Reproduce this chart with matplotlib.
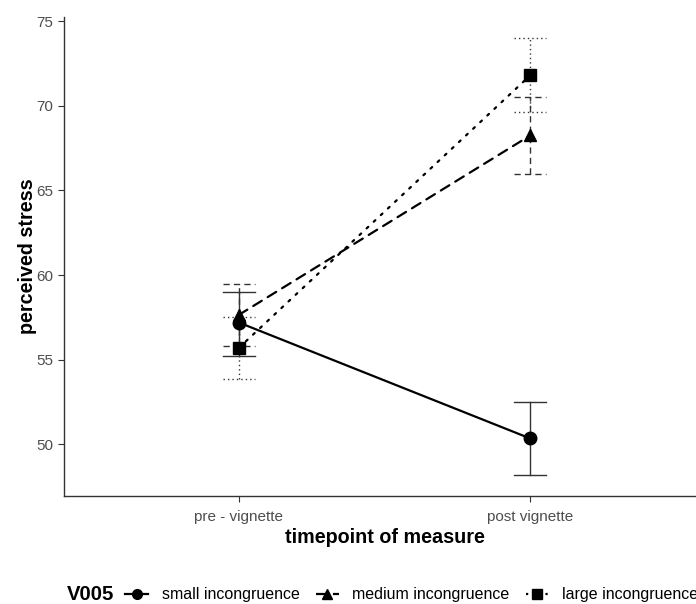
import matplotlib
matplotlib.use("Agg")
import matplotlib.pyplot as plt
from matplotlib.lines import Line2D

plt.rcParams['font.family'] = ['Liberation Sans', 'DejaVu Sans']
plt.rcParams['lines.scale_dashes'] = False

timepoints = ["pre - vignette", "post vignette"]
groups = ["small incongruence", "medium incongruence", "large incongruence"]
means = {
    "small incongruence": [57.2, 50.35],
    "medium incongruence": [57.65, 68.25],
    "large incongruence": [55.7, 71.8],
}
lower = {
    "small incongruence": [55.25, 48.2],
    "medium incongruence": [55.8, 66.0],
    "large incongruence": [53.85, 69.65],
}
upper = {
    "small incongruence": [59.0, 52.5],
    "medium incongruence": [59.5, 70.5],
    "large incongruence": [57.55, 74.0],
}
line_styles = {
    "small incongruence": "-",
    "medium incongruence": (0, (7.2, 5.0)),
    "large incongruence": (0, (1.6, 5.4)),
}
err_styles = {
    "small incongruence": "-",
    "medium incongruence": (0, (4.5, 3.0)),
    "large incongruence": (0, (1.0, 2.2)),
}
markers = {
    "small incongruence": "o",
    "medium incongruence": "^",
    "large incongruence": "s",
}

fig = plt.figure(figsize=(6.96, 6.04), dpi=100)
ax = fig.add_axes([64/696, 1-496/604, (705-64)/696, (496-17)/604])

xs = list(range(1, len(timepoints)+1))
capw = 0.055
for g in groups:
    ax.plot(xs, means[g], linestyle=line_styles[g], color='black', linewidth=1.6,
            zorder=3, dash_capstyle='round')
    mk = markers[g]
    ax.plot(xs, means[g], linestyle='none', marker=mk, color='black',
            markersize=9 if mk != 's' else 8.5, zorder=4)
    for x, lo, hi in zip(xs, lower[g], upper[g]):
        ax.plot([x, x], [lo, hi], color='#333333', linewidth=1.0,
                linestyle=err_styles[g], zorder=2)
        ax.plot([x-capw, x+capw], [lo, lo], color='#333333', linewidth=1.0,
                linestyle=err_styles[g], zorder=2)
        ax.plot([x-capw, x+capw], [hi, hi], color='#333333', linewidth=1.0,
                linestyle=err_styles[g], zorder=2)

ax.set_xlim(0.4, 2.6)
ax.set_ylim(46.95, 75.25)
ax.set_xticks(xs)
ax.set_xticklabels(timepoints)
ax.set_yticks([50, 55, 60, 65, 70, 75])
ax.tick_params(axis='both', colors='#333333', labelsize=11, length=4, width=0.8,
               labelcolor='#4d4d4d')
ax.tick_params(axis='x', pad=6)
for s in ['top', 'right']:
    ax.spines[s].set_visible(False)
for s in ['left', 'bottom']:
    ax.spines[s].set_color('#333333')
    ax.spines[s].set_linewidth(1.0)
ax.set_ylabel("perceived stress", fontsize=14.2, fontweight='bold', labelpad=0)
ax.set_xlabel("timepoint of measure", fontsize=14.2, fontweight='bold', labelpad=3)

handles = []
for g in groups:
    handles.append(Line2D([0], [0], color='black', linestyle=line_styles[g], linewidth=1.6,
                          marker=markers[g], markersize=7))
fig.text(67/696, 9/604, "V005", fontsize=14.6, fontweight='bold', va='center', ha='left')
fig.legend(handles, groups, loc='center left', bbox_to_anchor=(125/696, 9/604),
           ncol=3, frameon=False, fontsize=11.5, handlelength=1.45,
           handletextpad=0.85, columnspacing=1.0, borderaxespad=0, borderpad=0)

fig.savefig("out.png", dpi=100)
